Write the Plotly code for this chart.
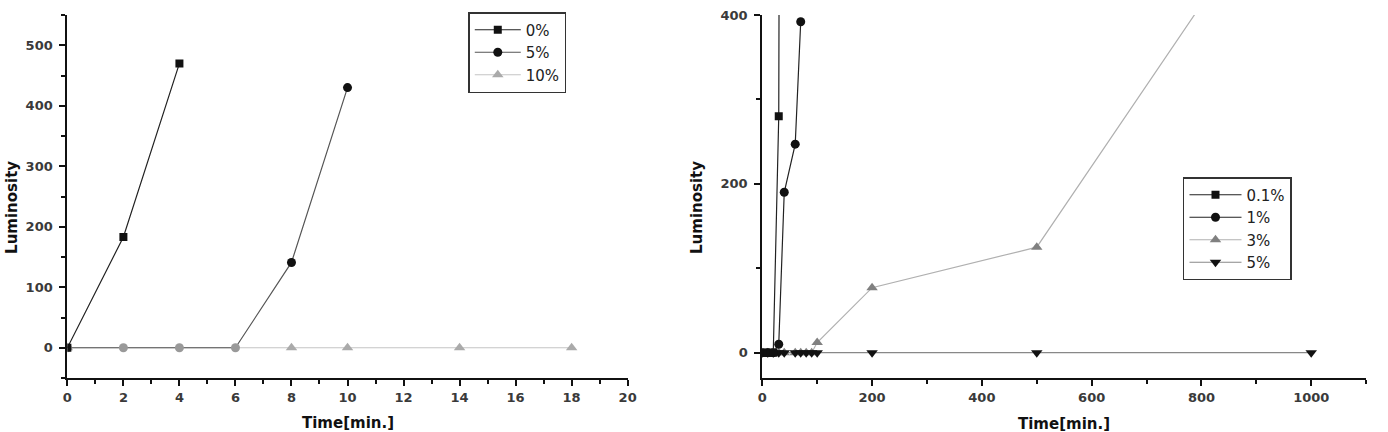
import plotly.graph_objects as go

# ---- Left chart data ----
L_x_0 = [0, 2, 4]
L_y_0 = [0, 183, 470]
L_x_5 = [10, 8, 6, 4, 2, 0]
L_y_5 = [430, 141, 0, 0, 0, 0]
L_x_10 = [0, 8, 10, 14, 18]
L_y_10 = [0, 0, 0, 0, 0]

# ---- Right chart data ----
R_x_01 = [0, 5, 10, 15, 20, 30, 32]
R_y_01 = [0, 0, 0, 0, 0, 280, 800]
R_x_1 = [0, 10, 20, 30, 40, 60, 70]
R_y_1 = [0, 0, 0, 10, 190, 247, 392]
R_x_3 = [0, 10, 20, 30, 40, 60, 70, 80, 90, 100, 200, 500, 1000]
R_y_3 = [0, 0, 0, 0, 0, 0, 0, 0, 0, 12, 77, 125, 604]
R_x_5 = [0, 10, 20, 30, 40, 60, 70, 80, 90, 100, 200, 500, 1000]
R_y_5 = [0, 0, 0, 0, 0, 0, 0, 0, 0, 0, 0, 0, 0]

W, H = 1388, 432
T, B = 15, 54
PH = H - T - B

def px_x(p):
    return p / W

def px_y(p):
    return (H - B - p) / PH

FONT = "DejaVu Sans, Liberation Sans, Arial, sans-serif"

fig = go.Figure()

# left traces
fig.add_trace(go.Scatter(x=L_x_10, y=L_y_10, name="10%", mode="lines+markers",
                         line=dict(color="#c4c4c4", width=1.2),
                         marker=dict(symbol="triangle-up", size=10, color="#aaaaaa"),
                         xaxis="x", yaxis="y", legend="legend", legendrank=3))
fig.add_trace(go.Scatter(x=L_x_5, y=L_y_5, name="5%", mode="lines+markers",
                         line=dict(color="#555555", width=1.2),
                         marker=dict(symbol="circle", size=9,
                                     color=["#111111", "#111111", "#999999", "#999999", "#999999", "#999999"]),
                         xaxis="x", yaxis="y", legend="legend", legendrank=2))
fig.add_trace(go.Scatter(x=L_x_0, y=L_y_0, name="0%", mode="lines+markers",
                         line=dict(color="#222222", width=1.2),
                         marker=dict(symbol="square", size=8, color="#111111"),
                         xaxis="x", yaxis="y", legend="legend", legendrank=1))

# right traces
fig.add_trace(go.Scatter(x=R_x_3, y=R_y_3, name="3%", mode="lines+markers",
                         line=dict(color="#b0b0b0", width=1.2),
                         marker=dict(symbol="triangle-up", size=10, color="#808080"),
                         xaxis="x2", yaxis="y2", legend="legend2", legendrank=3))
fig.add_trace(go.Scatter(x=R_x_5, y=R_y_5, name="5%", mode="lines+markers",
                         line=dict(color="#888888", width=1.2),
                         marker=dict(symbol="triangle-down", size=10, color="#111111"),
                         xaxis="x2", yaxis="y2", legend="legend2", legendrank=4))
fig.add_trace(go.Scatter(x=R_x_1, y=R_y_1, name="1%", mode="lines+markers",
                         line=dict(color="#222222", width=1.2),
                         marker=dict(symbol="circle", size=9, color="#111111"),
                         xaxis="x2", yaxis="y2", legend="legend2", legendrank=2))
fig.add_trace(go.Scatter(x=R_x_01, y=R_y_01, name="0.1%", mode="lines+markers",
                         line=dict(color="#222222", width=1.2),
                         marker=dict(symbol="square", size=8, color="#111111"),
                         xaxis="x2", yaxis="y2", legend="legend2", legendrank=1))

tickfont = dict(family=FONT, size=13, color="#3a3a3a", weight="bold")
axis_common = dict(showgrid=False, zeroline=False, showline=True, linecolor="#111111", linewidth=2,
                   ticks="outside", ticklen=6, tickwidth=2, tickcolor="#111111",
                   tickfont=tickfont, mirror=False)

legend_common = dict(xanchor="left", yanchor="top", bordercolor="#333333", borderwidth=1.5,
                     bgcolor="white", font=dict(family=FONT, size=15, color="#222222"),
                     traceorder="normal", tracegroupgap=0)

fig.update_layout(
    width=W, height=H,
    margin=dict(l=0, r=0, t=T, b=B),
    paper_bgcolor="white", plot_bgcolor="white",
    font=dict(family=FONT, color="#222222"),
    xaxis=dict(domain=[px_x(63), px_x(629)], range=[0, 20], dtick=2, anchor="y",
               minor=dict(dtick=1, ticks="outside", ticklen=4, tickwidth=2, tickcolor="#111111"),
               **axis_common),
    yaxis=dict(range=[-50, 550], dtick=100, anchor="x", ticklabelstandoff=4,
               minor=dict(dtick=50, ticks="outside", ticklen=4, tickwidth=2, tickcolor="#111111"),
               **axis_common),
    xaxis2=dict(domain=[px_x(765), px_x(1375)], range=[0, 1100], dtick=200, anchor="y2",
                minor=dict(dtick=100, ticks="outside", ticklen=4, tickwidth=2, tickcolor="#111111"),
                **axis_common),
    yaxis2=dict(range=[-30, 400], dtick=200, anchor="x2", ticklabelstandoff=4,
                minor=dict(dtick=100, ticks="outside", ticklen=4, tickwidth=2, tickcolor="#111111"),
                **axis_common),
    legend=dict(x=px_x(468), y=px_y(12), itemwidth=46, **legend_common),
    legend2=dict(x=px_x(1190), y=px_y(177), itemwidth=52, **legend_common),
    showlegend=True,
)

title_font = dict(family=FONT, size=15, color="#111111", weight="bold")
fig.add_annotation(text="Time[min.]", x=px_x(346), y=px_y(423), xref="paper", yref="paper",
                   showarrow=False, font=title_font, xanchor="center", yanchor="middle")
fig.add_annotation(text="Time[min.]", x=px_x(1070), y=px_y(424), xref="paper", yref="paper",
                   showarrow=False, font=title_font, xanchor="center", yanchor="middle")
fig.add_annotation(text="Luminosity", x=px_x(7), y=px_y(207), xref="paper", yref="paper",
                   showarrow=False, font=title_font, textangle=-90, xanchor="center", yanchor="middle")
fig.add_annotation(text="Luminosity", x=px_x(699), y=px_y(207), xref="paper", yref="paper",
                   showarrow=False, font=title_font, textangle=-90, xanchor="center", yanchor="middle")

fig.write_html("out.html")
